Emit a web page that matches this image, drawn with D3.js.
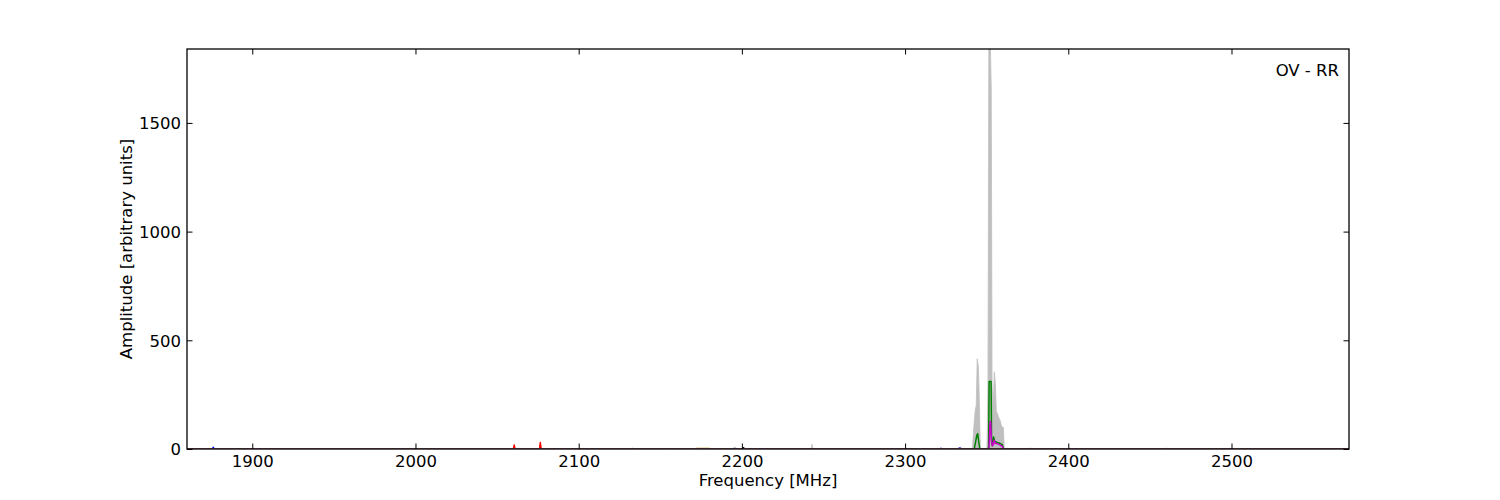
<!DOCTYPE html>
<html>
<head>
<meta charset="utf-8">
<script src="https://cdn.jsdelivr.net/npm/d3@7"></script>
<style>
  html, body { margin: 0; padding: 0; background: #fff; }
  svg { display: block; font-family: "DejaVu Sans", sans-serif; }
</style>
</head>
<body>
<svg id="chart" width="1500" height="500"></svg>
<script>
// ---------- DATA ----------
const xTicks = [1900, 2000, 2100, 2200, 2300, 2400, 2500];
const yTicks = [0, 500, 1000, 1500];
const xDomain = [1860, 2572];
const yDomain = [0, 1840];

// total spectrum (grey fill)
const totalFreq = [1860, 1875.5, 1876.1, 1876.7, 1912, 1912.6, 1913.2, 2060, 2060.5, 2061, 2076, 2076.5, 2077,
  2132.5, 2133, 2133.5, 2154, 2154.5, 2155, 2171, 2172, 2180, 2181, 2194, 2195, 2196, 2197, 2200.5, 2201, 2201.5,
  2242.5, 2243, 2243.5, 2321, 2322, 2323, 2332, 2333, 2334, 2335,
  2341.2, 2341.8, 2342.4, 2343.0, 2343.6, 2344.2, 2344.9, 2345.5, 2346.1,
  2350.2, 2350.8, 2351.3, 2351.7, 2352.3, 2352.8, 2353.3, 2354.0, 2354.7, 2355.3, 2355.9, 2356.5, 2357.1, 2357.7,
  2358.3, 2358.9, 2359.6, 2360.2, 2360.8, 2376, 2377, 2378, 2572];
const totalAmp = [0, 0, 8, 0, 0, 2, 0, 0, 15, 0, 0, 25, 0,
  0, 3, 0, 0, 3, 0, 0, 3, 3, 0, 0, 6, 8, 0, 0, 8, 0,
  0, 22, 0, 0, 4, 0, 0, 6, 8, 0,
  0, 60, 130, 180, 200, 415, 380, 220, 0,
  0, 320, 1840, 1840, 1840, 1650, 300, 200, 355, 300, 170, 165, 150, 140,
  130, 110, 100, 100, 0, 0, 3, 0, 0];

const greenFreq = [1860, 2132.5, 2133, 2133.5, 2342.4, 2343.0, 2344.0, 2344.5, 2345.2, 2345.8, 2350.8, 2351.2, 2351.5, 2352.7,
  2353.0, 2353.5, 2354.2, 2355.0, 2356.5, 2358.3, 2359.6, 2360.2, 2572];
const greenAmp = [0, 0, 2, 0, 0, 25, 65, 70, 30, 0, 0, 10, 310, 310,
  30, 15, 55, 35, 30, 25, 20, 0, 0];

const magentaFreq = [1860, 2351.4, 2352.0, 2352.4, 2352.9, 2353.4, 2354.0, 2354.6, 2355.3, 2356.5, 2358.3, 2359.6, 2360.2, 2376.5, 2377, 2377.5, 2572];
const magentaAmp = [0, 0, 120, 128, 40, 15, 20, 40, 25, 25, 18, 12, 0, 0, 2, 0, 0];

const redFreq = [1860, 2060, 2060.5, 2061, 2076, 2076.5, 2077, 2572];
const redAmp = [0, 0, 18, 0, 0, 30, 0, 0];

const blueFreq = [1860, 1875.5, 1876.1, 1876.7, 2321, 2322, 2323, 2332, 2333, 2334, 2335, 2459.5, 2460, 2460.5, 2572];
const blueAmp = [0, 0, 8, 0, 0, 3, 0, 0, 3, 3, 0, 0, 2, 0, 0];

const orangeFreq = [1860, 2171, 2172, 2180, 2181, 2572];
const orangeAmp = [0, 0, 2, 2, 0, 0];

const blackFreq = [1860, 2200.5, 2201, 2201.5, 2572];
const blackAmp = [0, 0, 6, 0, 0];

// ---------- LAYOUT ----------
const svg = d3.select("#chart");
const L = 187, R = 1349, T = 49, B = 449;
const x = d3.scaleLinear().domain(xDomain).range([L, R]);
const y = d3.scaleLinear().domain(yDomain).range([B, T]);

const defs = svg.append("defs");
defs.append("clipPath").attr("id", "clip")
  .append("rect").attr("x", L).attr("y", T).attr("width", R - L).attr("height", B - T);
defs.append("clipPath").attr("id", "clipLines")
  .append("rect").attr("x", L).attr("y", T).attr("width", R - L).attr("height", B - T - 0.8);

const plot = svg.append("g").attr("clip-path", "url(#clip)");
const plotLines = svg.append("g").attr("clip-path", "url(#clipLines)");

const zip = (f, a) => f.map((v, i) => [v, a[i]]);

plot.append("path")
  .datum(zip(totalFreq, totalAmp))
  .attr("fill", "#bfbfbf")
  .attr("stroke", "#bfbfbf")
  .attr("stroke-width", 0.8)
  .attr("d", d3.area().x(d => x(d[0])).y0(y(0)).y1(d => y(d[1])));

const line = d3.line().x(d => x(d[0])).y(d => y(d[1]));
const series = [
  [blueFreq, blueAmp, "#0000ff"],
  [orangeFreq, orangeAmp, "#d4a017"],
  [blackFreq, blackAmp, "#000000"],
  [redFreq, redAmp, "#ff0000"],
  [greenFreq, greenAmp, "#008000"],
  [magentaFreq, magentaAmp, "#cc00cc"]
];
series.forEach(([f, a, c]) => {
  plotLines.append("path")
    .datum(zip(f, a))
    .attr("fill", "none")
    .attr("stroke", c)
    .attr("stroke-width", 1.5)
    .attr("stroke-linejoin", "round")
    .attr("d", line);
});

// ---------- AXES ----------
const tick = 5.5, pad = 6;
const fs = "16.5px";
const fmt = d3.format("d");

const gx = svg.append("g").attr("transform", `translate(0,${B})`)
  .call(d3.axisBottom(x).tickValues(xTicks).tickSizeInner(-tick).tickSizeOuter(0).tickPadding(pad).tickFormat(fmt));
const gxTop = svg.append("g").attr("transform", `translate(0,${T})`)
  .call(d3.axisTop(x).tickValues(xTicks).tickSizeInner(-tick).tickSizeOuter(0).tickFormat(""));
const gy = svg.append("g").attr("transform", `translate(${L},0)`)
  .call(d3.axisLeft(y).tickValues(yTicks).tickSizeInner(-tick).tickSizeOuter(0).tickPadding(pad).tickFormat(fmt));
const gyR = svg.append("g").attr("transform", `translate(${R},0)`)
  .call(d3.axisRight(y).tickValues(yTicks).tickSizeInner(-tick).tickSizeOuter(0).tickFormat(""));

[gx, gxTop, gy, gyR].forEach(g => {
  g.select(".domain").remove();
  g.selectAll(".tick line").attr("stroke", "#000").attr("stroke-width", 1);
  g.selectAll(".tick text").attr("fill", "#000").style("font-size", fs)
    .style("font-family", "'DejaVu Sans', sans-serif");
});
gy.selectAll(".tick text").attr("dy", "0.36em");

// frame
svg.append("rect").attr("x", L).attr("y", T).attr("width", R - L).attr("height", B - T)
  .attr("fill", "none").attr("stroke", "#000").attr("stroke-width", 1.3);

// labels
svg.append("text").attr("x", (L + R) / 2).attr("y", 486).attr("text-anchor", "middle")
  .style("font-size", fs).text("Frequency [MHz]");
svg.append("text").attr("transform", `translate(132,${(T + B) / 2}) rotate(-90)`)
  .attr("text-anchor", "middle").style("font-size", fs).text("Amplitude [arbitrary units]");
svg.append("text").attr("x", 1339).attr("y", 76).attr("text-anchor", "end")
  .style("font-size", fs).text("OV - RR");
</script>
</body>
</html>
